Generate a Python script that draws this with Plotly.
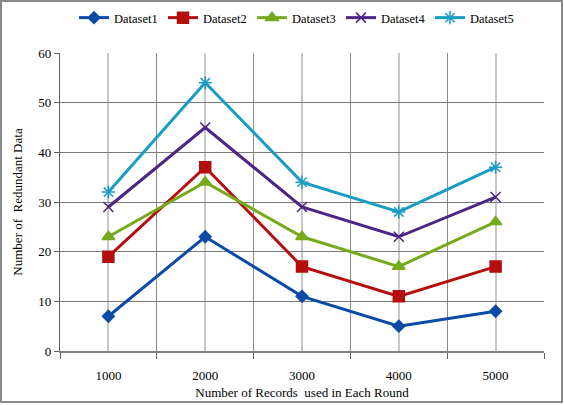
import plotly.graph_objects as go

categories = ["1000", "2000", "3000", "4000", "5000"]
series_names = ["Dataset1", "Dataset2", "Dataset3", "Dataset4", "Dataset5"]
dataset1 = [7, 23, 11, 5, 8]
dataset2 = [19, 37, 17, 11, 17]
dataset3 = [23, 34, 23, 17, 26]
dataset4 = [29, 45, 29, 23, 31]
dataset5 = [32, 54, 34, 28, 37]
y_ticks = [0, 10, 20, 30, 40, 50, 60]

colors = ["#0B4AA6", "#B50E0E", "#76AA1C", "#4A2685", "#1A9CC4"]
symbols = ["diamond", "square", "triangle-up", "x-thin-open", "asterisk-open"]
msizes = [9, 11, 11, 10, 11]

W, H = 564, 405
ml, mr, mt, mb = 60, 20, 53, 54
pw, ph = W - ml - mr, H - mt - mb

fig = go.Figure()
xs = list(range(len(categories)))
for name, vals, c, s, ms in zip(series_names, [dataset1, dataset2, dataset3, dataset4, dataset5], colors, symbols, msizes):
    fig.add_trace(go.Scatter(
        x=xs, y=vals, name=name, mode="lines+markers",
        line=dict(color=c, width=3),
        marker=dict(symbol=s, size=ms, color=c, line=dict(color=c, width=1.5)),
    ))

font = "Liberation Serif, Times New Roman, serif"
fig.update_layout(
    width=W, height=H,
    margin=dict(l=ml, r=mr, t=mt, b=mb, autoexpand=False),
    paper_bgcolor="white", plot_bgcolor="white",
    font=dict(family=font, size=13, color="black"),
    showlegend=True,
    legend=dict(orientation="h", x=(74 - ml) / pw, xanchor="left", y=1 + (mt - 18) / ph, yanchor="middle",
                font=dict(family=font, size=12.5), itemwidth=30, tracegroupgap=0,
                entrywidth=44, entrywidthmode="pixels",
                bgcolor="rgba(0,0,0,0)"),
    xaxis=dict(
        range=[-0.5, len(categories) - 0.5],
        tickvals=xs, ticktext=categories, ticks="",
        showgrid=True, gridcolor="#C8C8C8", gridwidth=1.5,
        showline=True, linecolor="#808080", linewidth=1.5,
        zeroline=False, ticklabelstandoff=12,
        minor=dict(tickvals=[i - 0.5 for i in range(len(categories) + 1)],
                   ticks="outside", ticklen=6, tickcolor="#606060", tickwidth=1,
                   showgrid=True, gridcolor="#8C8C8C", gridwidth=1.2),
        title=dict(text="Number of Records  used in Each Round", font=dict(family=font, size=13), standoff=6),
        fixedrange=True,
    ),
    yaxis=dict(
        range=[0, 60], tickvals=y_ticks,
        ticks="outside", ticklen=5, tickcolor="#606060",
        showgrid=True, gridcolor="#7A7A7A", gridwidth=1.2,
        showline=True, linecolor="#606060", linewidth=1.2,
        zeroline=False,
        title=dict(text="Number of  Redundant Data", font=dict(family=font, size=13), standoff=12),
        fixedrange=True,
    ),
    shapes=[dict(type="rect", xref="paper", yref="paper",
                 x0=(1 - ml) / pw, x1=(W - 2 - ml) / pw,
                 y0=-(mb - 3) / ph, y1=1 + (mt - 1) / ph,
                 line=dict(color="#8A8A8A", width=2), layer="below")],
)

fig.write_html("out.html")
